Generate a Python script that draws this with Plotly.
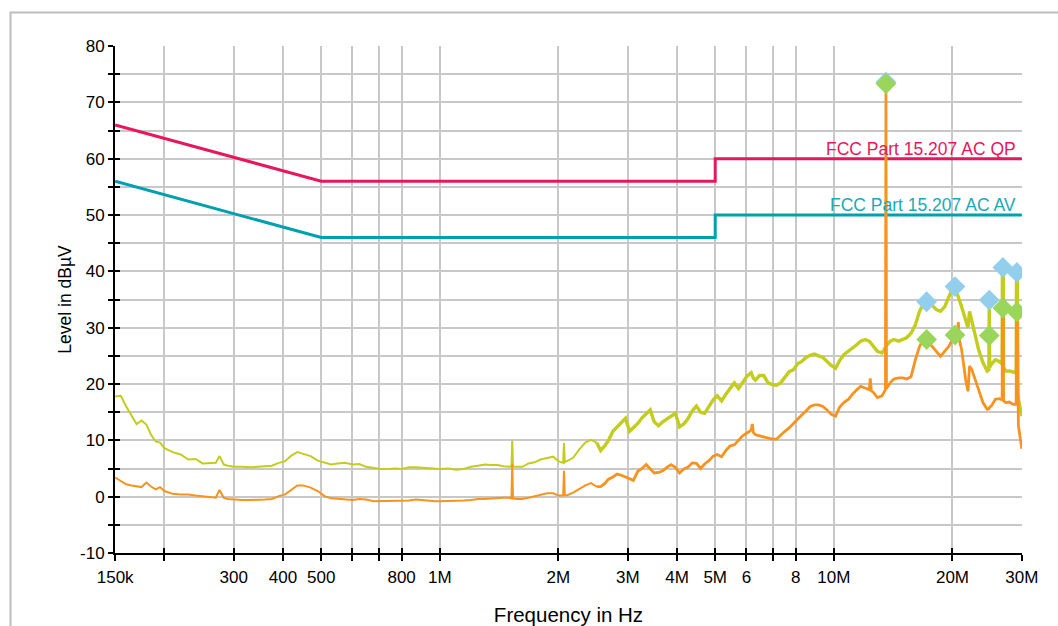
import math
import plotly.graph_objects as go

# ---------------- data ----------------
freq_mhz = [
    0.150, 0.155, 0.160, 0.165, 0.170, 0.175, 0.180, 0.185, 0.190, 0.195,
    0.200, 0.210, 0.220, 0.230, 0.240, 0.250, 0.260, 0.270, 0.276, 0.283,
    0.290, 0.300, 0.315, 0.330, 0.345, 0.360, 0.375, 0.390, 0.405, 0.420,
    0.435, 0.450, 0.470, 0.490, 0.510, 0.530, 0.550, 0.575, 0.600, 0.625,
    0.650, 0.680, 0.710, 0.740, 0.770, 0.800, 0.835, 0.870, 0.905, 0.940,
    0.975, 1.000, 1.050, 1.100, 1.150, 1.200, 1.250, 1.300, 1.350, 1.400,
    1.450, 1.500, 1.520, 1.527, 1.534, 1.560, 1.620, 1.680, 1.740, 1.800,
    1.870, 1.940, 2.000, 2.056, 2.066, 2.076, 2.100, 2.180, 2.260, 2.340,
    2.420, 2.500,
    2.56, 2.62, 2.68, 2.75, 2.82, 2.89, 2.96, 3.03, 3.10, 3.18,
    3.26, 3.34, 3.42, 3.50, 3.59, 3.68, 3.77, 3.86, 3.96, 4.06,
    4.16, 4.26, 4.37, 4.48, 4.59, 4.70, 4.82, 4.94, 5.06, 5.19,
    5.32, 5.45, 5.59, 5.73, 5.87, 6.02, 6.17, 6.21, 6.25, 6.32,
    6.48, 6.64, 6.81, 6.98, 7.15, 7.33, 7.51, 7.70, 7.89, 8.09,
    8.29, 8.50, 8.71, 8.93, 9.15, 9.38, 9.61, 9.85, 10.1, 10.35,
    10.6, 10.9, 11.15, 11.45, 11.7, 12.0, 12.3, 12.37, 12.45, 12.6,
    12.9, 13.25, 13.52, 13.56, 13.60, 13.9, 14.2, 14.6, 14.95, 15.3,
    15.7, 16.1, 16.5, 16.9, 17.2, 17.75, 18.2, 18.65, 19.1, 19.6,
    20.1, 20.3, 20.6, 20.7, 20.8, 21.1, 21.6, 21.9, 22.1, 22.4,
    22.7, 23.3, 23.9, 24.5, 24.74, 24.8, 24.86, 25.1, 25.7, 26.3,
    26.74, 26.78, 26.92, 26.96, 27.3, 27.9, 28.5, 29.02, 29.08, 29.22,
    29.28, 29.4, 30.0,
]

pk_dbuv = [
    17.8, 17.9, 16.0, 14.4, 12.9, 13.5, 12.8, 11.0, 9.8, 9.6,
    8.6, 7.9, 7.5, 6.6, 6.7, 5.9, 5.9, 6.0, 7.2, 5.7,
    5.5, 5.3, 5.3, 5.2, 5.3, 5.4, 5.5, 6.0, 6.3, 7.3,
    7.9, 7.6, 7.2, 6.4, 6.0, 5.7, 5.9, 6.0, 5.7, 5.8,
    5.3, 5.1, 4.9, 4.9, 5.0, 4.9, 5.2, 5.2, 5.1, 5.0,
    4.9, 4.9, 5.0, 4.8, 4.9, 5.3, 5.5, 5.7, 5.6, 5.6,
    5.4, 5.3, 5.3, 9.9, 5.3, 5.3, 5.3, 5.9, 6.1, 6.6,
    6.9, 7.1, 6.3, 6.0, 9.5, 6.1, 6.3, 6.9, 8.4, 9.6,
    10.1, 9.6,
    8.2, 9.0, 10.0, 11.6, 12.4, 13.0, 13.9, 11.6, 12.2, 13.0,
    14.0, 14.8, 15.4, 13.3, 12.6, 13.3, 13.8, 14.2, 14.8, 12.4,
    12.9, 13.8, 15.2, 16.1, 15.0, 14.8, 16.1, 17.2, 17.9, 17.0,
    18.2, 19.3, 20.2, 19.2, 20.4, 21.4, 22.0, 21.6, 21.0, 20.7,
    21.5, 21.5, 20.2, 19.9, 19.8, 20.2, 21.2, 22.2, 22.5, 23.6,
    24.0, 24.7, 25.1, 25.3, 25.0, 24.7, 24.0, 23.3, 22.8, 24.2,
    25.2, 25.8, 26.4, 27.0, 27.6, 27.9, 27.6, 27.4, 27.2, 26.7,
    25.8, 25.5, 26.6, 26.7, 26.8, 27.6, 27.9, 27.6, 27.9, 28.2,
    29.0, 30.5, 32.9, 34.3, 34.6, 34.0, 33.2, 32.9, 33.7, 35.5,
    37.3, 37.2, 36.1, 35.5, 35.0, 33.7, 31.1, 30.0, 32.9, 31.0,
    29.6, 26.1, 23.8, 22.3, 22.5, 34.9, 23.0, 23.5, 24.3, 24.0,
    23.5, 40.7, 40.7, 23.0, 22.3, 22.3, 22.1, 22.0, 39.8, 39.8,
    18.5, 17.3, 14.3,
]

av_dbuv = [
    3.4, 2.8, 2.2, 2.0, 1.9, 1.7, 2.5, 1.8, 1.3, 1.7,
    1.0, 0.5, 0.4, 0.4, 0.2, 0.1, 0.0, -0.2, 1.2, -0.2,
    -0.4, -0.5, -0.6, -0.6, -0.6, -0.5, -0.4, 0.1, 0.4, 1.3,
    2.0, 2.0, 1.6, 1.0, 0.1, -0.3, -0.4, -0.5, -0.6, -0.4,
    -0.5, -0.8, -0.8, -0.8, -0.8, -0.8, -0.7, -0.5, -0.6, -0.8,
    -0.8, -0.8, -0.8, -0.8, -0.7, -0.6, -0.4, -0.4, -0.3, -0.2,
    -0.2, -0.2, -0.3, 5.8, -0.3, -0.4, -0.4, -0.2, 0.1, 0.4,
    0.6, 0.6, 0.2, 0.2, 4.6, 0.3, 0.2, 0.7, 1.4, 2.0,
    2.4, 1.8,
    1.8, 2.3, 3.1, 3.5, 4.0, 3.8, 3.5, 3.2, 2.9, 4.5,
    5.0, 5.7, 5.0, 4.2, 4.3, 4.6, 5.2, 5.7, 5.2, 4.2,
    4.9, 5.2, 6.0, 5.9, 5.0, 5.8, 6.4, 7.2, 7.5, 7.1,
    8.2, 9.0, 9.2, 10.0, 10.8, 11.3, 11.8, 12.9, 11.4, 11.0,
    10.8, 10.6, 10.4, 10.2, 10.2, 11.0, 11.6, 12.2, 13.0, 13.8,
    14.5, 15.2, 16.0, 16.3, 16.3, 16.0, 15.4, 14.6, 14.3, 15.9,
    16.7, 17.3, 18.2, 19.0, 19.6, 19.3, 19.0, 21.0, 18.8, 18.5,
    17.6, 17.9, 19.0, 73.3, 19.2, 20.2, 20.9, 21.1, 21.1, 20.9,
    21.3, 24.3, 26.7, 27.9, 27.9, 26.7, 25.8, 24.9, 25.8, 26.7,
    28.2, 28.6, 29.0, 31.0, 28.0, 26.1, 20.8, 18.7, 23.2, 22.5,
    21.4, 19.0, 16.7, 15.5, 15.6, 15.8, 15.9, 16.1, 17.3, 17.4,
    17.2, 33.5, 33.5, 17.0, 16.7, 16.8, 16.4, 16.4, 32.8, 32.8,
    13.0, 12.6, 8.5,
]

limit_freq_mhz = [0.15, 0.5, 5.0, 5.0, 30.0]
limit_qp_dbuv = [66, 56, 56, 60, 60]
limit_av_dbuv = [56, 46, 46, 50, 50]

final_freq_mhz = [13.56, 17.2, 20.3, 24.8, 26.85, 29.15]
final_qp_dbuv = [73.6, 34.6, 37.3, 34.9, 40.7, 39.8]
final_av_dbuv = [73.3, 27.9, 28.7, 28.6, 33.5, 32.8]

tick_freq_hz = [150e3, 200e3, 300e3, 400e3, 500e3, 600e3, 700e3, 800e3, 1e6,
                2e6, 3e6, 4e6, 5e6, 6e6, 7e6, 8e6, 10e6, 20e6, 30e6]
tick_text = ["150k", "", "300", "400", "500", "", "", "800", "1M",
             "2M", "3M", "4M", "5M", "6", "", "8", "10M", "20M", "30M"]

level_tick_vals = [-10, 0, 10, 20, 30, 40, 50, 60, 70, 80]
level_tick_text = ["-10", "0", "10", "20", "30", "40", "50", "60", "70", "80"]
level_minor_vals = [-5, 5, 15, 25, 35, 45, 55, 65, 75]

# ---------------- styling ----------------
FONT = "Liberation Sans, Arial, sans-serif"
C_QP = "#e8175d"
C_AVL = "#00a0b0"
C_PK = "#c3cd1f"
C_AV = "#f7931e"
C_MQP = "#93cfec"
C_MAV = "#9ad65c"
GRID = "#c8c8c8"

xr = [math.log10(150e3) - 0.0004, math.log10(30e6) + 0.0004]
yr = [-10, 80]

f_hz = [f * 1e6 for f in freq_mhz]
split = freq_mhz.index(2.5)

fig = go.Figure()
fig.add_trace(go.Scatter(x=[f * 1e6 for f in limit_freq_mhz], y=limit_qp_dbuv, mode="lines",
                         line=dict(color=C_QP, width=3), hoverinfo="skip"))
fig.add_trace(go.Scatter(x=[f * 1e6 for f in limit_freq_mhz], y=limit_av_dbuv, mode="lines",
                         line=dict(color=C_AVL, width=3), hoverinfo="skip"))
fig.add_trace(go.Scatter(x=f_hz[:split + 1], y=pk_dbuv[:split + 1], mode="lines",
                         line=dict(color=C_PK, width=2)))
fig.add_trace(go.Scatter(x=f_hz[split:], y=pk_dbuv[split:], mode="lines",
                         line=dict(color=C_PK, width=3.4)))
fig.add_trace(go.Scatter(x=f_hz[:split + 1], y=av_dbuv[:split + 1], mode="lines",
                         line=dict(color=C_AV, width=2)))
fig.add_trace(go.Scatter(x=f_hz[split:], y=av_dbuv[split:], mode="lines",
                         line=dict(color=C_AV, width=2.8)))
fig.add_trace(go.Scatter(x=[f * 1e6 for f in final_freq_mhz], y=final_qp_dbuv, mode="markers",
                         marker=dict(symbol="diamond", size=16, color=C_MQP, line=dict(width=0))))
fig.add_trace(go.Scatter(x=[f * 1e6 for f in final_freq_mhz], y=final_av_dbuv, mode="markers",
                         marker=dict(symbol="diamond", size=16, color=C_MAV, line=dict(width=0))))
# invisible helper trace so the overlay tick axes are drawn
fig.add_trace(go.Scatter(x=[150e3], y=[-10], xaxis="x2", yaxis="y2", mode="markers",
                         marker=dict(opacity=0), hoverinfo="skip"))

fig.update_layout(
    width=1058, height=626,
    margin=dict(l=115, r=36, t=46, b=73, autoexpand=False),
    paper_bgcolor="white", plot_bgcolor="white",
    showlegend=False,
    font=dict(family=FONT, color="black", size=16),
    xaxis=dict(
        type="log", range=xr, automargin=False,
        tickmode="array", tickvals=tick_freq_hz, ticktext=tick_text,
        showgrid=True, gridcolor=GRID, gridwidth=1.5,
        showline=True, linecolor="black", linewidth=2,
        ticks="outside", ticklen=6, tickwidth=2, tickcolor="black",
        ticklabelstandoff=2,
        tickfont=dict(size=17),
        zeroline=False,
        title=dict(text="Frequency in Hz", font=dict(size=20.5), standoff=22),
    ),
    yaxis=dict(
        range=yr, automargin=False,
        tickmode="array", tickvals=level_tick_vals, ticktext=level_tick_text,
        showgrid=True, gridcolor=GRID, gridwidth=1.5,
        minor=dict(tickmode="array", tickvals=level_minor_vals, ticks="outside", ticklen=5,
                   tickwidth=2, tickcolor="black", showgrid=True, gridcolor=GRID, gridwidth=1.5),
        showline=True, linecolor="black", linewidth=2,
        ticks="outside", ticklen=5, tickwidth=2, tickcolor="black",
        tickfont=dict(size=17),
        zeroline=False,
        title=dict(text="Level in dBµV", font=dict(size=17.5), standoff=4),
    ),
    xaxis2=dict(
        type="log", range=xr, overlaying="x", anchor="y", side="bottom",
        tickmode="array", tickvals=tick_freq_hz, showticklabels=False,
        ticks="inside", ticklen=5, tickwidth=2, tickcolor="black",
        showgrid=False, showline=False, zeroline=False, automargin=False,
    ),
    yaxis2=dict(
        range=yr, overlaying="y", anchor="x", side="left",
        tickmode="linear", tick0=0, dtick=5, showticklabels=False,
        ticks="inside", ticklen=5, tickwidth=2, tickcolor="black",
        showgrid=False, showline=False, zeroline=False, automargin=False,
    ),
    annotations=[
        dict(x=1, xref="paper", y=60, yref="y", text="FCC Part 15.207 AC QP",
             showarrow=False, xanchor="right", yanchor="bottom", xshift=-4, yshift=-2,
             font=dict(size=17.5, color=C_QP, family=FONT)),
        dict(x=1, xref="paper", y=50, yref="y", text="FCC Part 15.207 AC AV",
             showarrow=False, xanchor="right", yanchor="bottom", xshift=-4, yshift=-2,
             font=dict(size=17.5, color="#1aa9b8", family=FONT)),
    ],
    shapes=[
        dict(type="rect", xref="paper", yref="paper",
             x0=-0.1152, x1=1.08, y0=-0.2, y1=1.066,
             line=dict(color="#bdbdbd", width=2), fillcolor="rgba(0,0,0,0)", layer="below"),
    ],
)

fig.write_html("out.html", config={"displayModeBar": False},
               post_script="document.body.style.margin='0';document.body.style.overflow='hidden';")
